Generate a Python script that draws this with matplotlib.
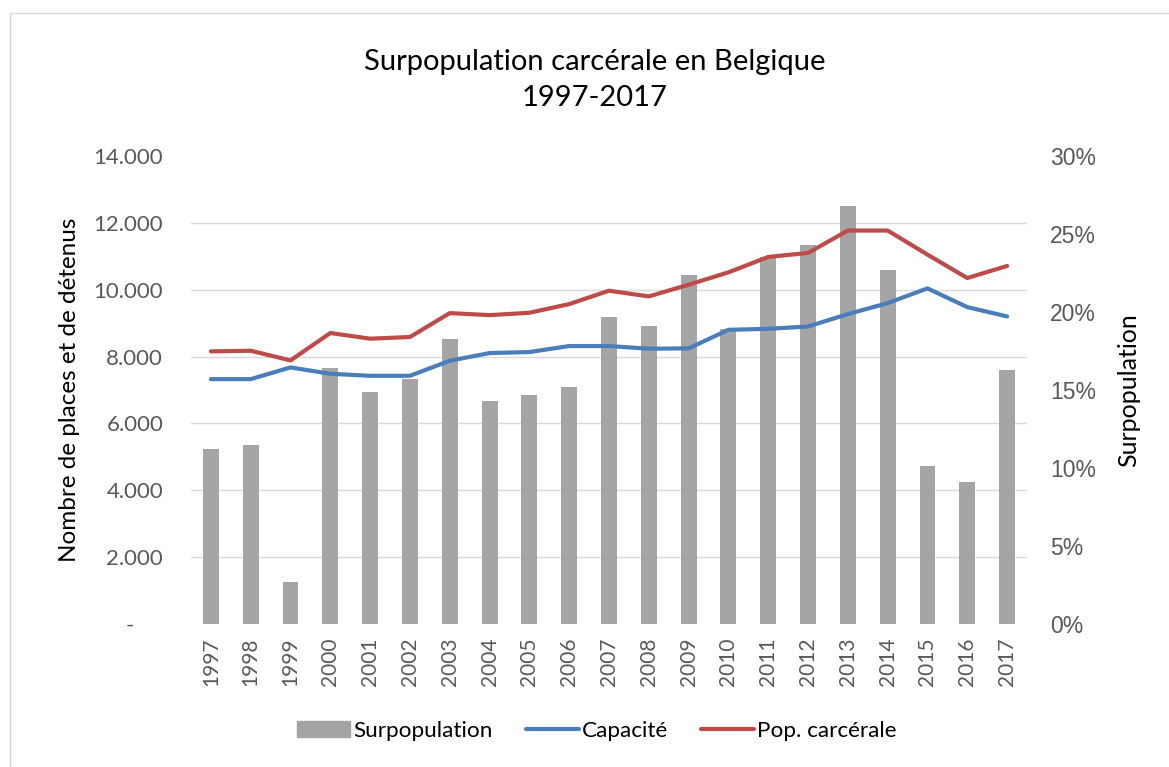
import matplotlib
matplotlib.use("Agg")
import matplotlib.pyplot as plt
import numpy as np
from matplotlib.patches import Rectangle
from matplotlib.lines import Line2D

plt.rcParams['font.family'] = ['Lato', 'DejaVu Sans']

years = [str(y) for y in range(1997, 2018)]
surpopulation = [11.2, 11.5, 2.7, 16.4, 14.9, 15.7, 18.3, 14.3, 14.7, 15.2, 19.7,
                 19.1, 22.4, 18.9, 23.5, 24.3, 26.8, 22.7, 10.1, 9.1, 16.3]
capacite = [7325, 7325, 7675, 7485, 7425, 7425, 7875, 8105, 8135, 8315, 8315,
            8235, 8245, 8800, 8830, 8900, 9270, 9600, 10040, 9480, 9200]
pop_carcerale = [8155, 8175, 7885, 8705, 8535, 8585, 9300, 9240, 9310, 9570, 9970,
                 9800, 10150, 10520, 10980, 11100, 11770, 11770, 11050, 10350, 10710]
left_ticks = [0, 2000, 4000, 6000, 8000, 10000, 12000, 14000]
left_labels = ['-     ', '2.000', '4.000', '6.000', '8.000', '10.000', '12.000', '14.000']
right_ticks = [0, 5, 10, 15, 20, 25, 30]
right_labels = ['0%', '5%', '10%', '15%', '20%', '25%', '30%']

W, H = 1169, 767
fig = plt.figure(figsize=(W / 100, H / 100), dpi=100)

# outer border (top and left visible)
fig.patches.append(Rectangle((10 / W, -0.1), 1.2, 1 - 13 / H + 0.1, transform=fig.transFigure,
                             fill=False, edgecolor='#d9d9d9', linewidth=1.0))

ax = fig.add_axes([191 / W, 1 - 624 / H, (1027 - 191) / W, (624 - 156) / H])
ax2 = ax.twinx()
ax.set_zorder(ax2.get_zorder() + 1)
ax.patch.set_visible(False)

x = np.arange(len(years))
tick_col = '#595959'
grid_col = '#d9d9d9'

# bars on right axis (behind)
ax2.bar(x, surpopulation, width=0.4, color='#a5a5a5', zorder=2)
ax2.set_ylim(0, 30)
ax2.set_yticks(right_ticks)
ax2.set_yticklabels(right_labels, fontfamily=['Liberation Sans', 'DejaVu Sans'])
ax2.set_yticks(np.array(left_ticks) / 14000 * 30, minor=True)
ax2.grid(which='minor', axis='y', color=grid_col, linewidth=1.0, zorder=0)
ax2.tick_params(which='minor', length=0)
ax2.tick_params(axis='y', which='major', length=0, pad=16.5, labelsize=16.5, labelcolor=tick_col)
ax2.set_ylabel('Surpopulation', fontsize=18, color='black')
ax2.yaxis.set_label_coords((1117 - 191) / 836, 0.5)

# lines on left axis (front)
ax.plot(x, capacite, color='#4a7ebb', linewidth=3.0, solid_capstyle='round', zorder=3)
ax.plot(x, pop_carcerale, color='#be4b48', linewidth=3.0, solid_capstyle='round', zorder=3)
ax.set_ylim(0, 14000)
ax.set_xlim(-0.5, len(years) - 0.5)
ax.set_yticks(left_ticks)
ax.set_yticklabels(left_labels)
ax.set_xticks(x)
ax.set_xticklabels(years, rotation=90)
ax.tick_params(axis='y', length=0, pad=20, labelsize=16, labelcolor=tick_col)
ax.tick_params(axis='x', length=0, pad=10, labelsize=15, labelcolor=tick_col)
ax.set_ylabel('Nombre de places et de détenus', fontsize=17.5, color='black')
ax.yaxis.set_label_coords((80 - 191) / 836, 0.5)

for a in (ax, ax2):
    for s in a.spines.values():
        s.set_visible(False)

fig.text(595 / W, 1 - 62 / H, 'Surpopulation carcérale en Belgique', ha='center', va='center',
         fontsize=21, color='black')
fig.text(595 / W, 1 - 98 / H, '1997-2017', ha='center', va='center', fontsize=21, color='black')

handles = [Rectangle((0, 0), 1, 1, color='#a5a5a5'),
           Line2D([0], [0], color='#4a7ebb', linewidth=3.0, solid_capstyle='round'),
           Line2D([0], [0], color='#be4b48', linewidth=3.0, solid_capstyle='round')]
fig.legend(handles, ['Surpopulation', 'Capacité', 'Pop. carcérale'], loc='center',
           bbox_to_anchor=(597 / W, 1 - 731 / H), ncol=3, frameon=False, fontsize=16.2,
           handlelength=2.35, handletextpad=0.15, columnspacing=1.45)

fig.savefig('out.png', dpi=100)
